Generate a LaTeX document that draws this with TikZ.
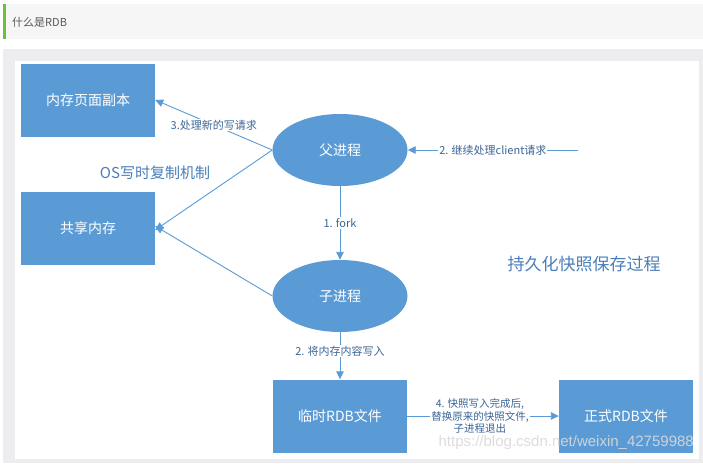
\documentclass[tikz,border=0pt]{standalone}
\usepackage{fontspec}
\setmainfont{Noto Sans CJK SC}
\newfontfamily\wmfont{Liberation Sans}
\usetikzlibrary{shapes.geometric,arrows.meta}
\definecolor{boxblue}{HTML}{5B9BD5}
\definecolor{lineblue}{HTML}{5B9BD5}
\definecolor{txtblue}{HTML}{4A7EBB}
\definecolor{panelgray}{HTML}{EDEDEF}
\definecolor{headgray}{HTML}{F6F6F7}
\definecolor{headgreen}{HTML}{6CBF3F}
\tikzset{
  rbox/.style={draw=none, fill=boxblue, minimum width=134pt, minimum height=73pt, inner sep=0pt, text=white, font=\fontsize{14}{16}\selectfont},
  proc/.style={ellipse, draw=none, fill=boxblue, minimum width=135pt, minimum height=72pt, inner sep=0pt, text=white, font=\fontsize{14}{16}\selectfont},
  conn/.style={draw=lineblue, line width=0.9pt, -{Triangle[length=8pt,width=7.5pt]}},
  lbl/.style={fill=white, inner sep=1pt, text=txtblue!80!black, font=\fontsize{11}{13}\selectfont, align=center},
  bigt/.style={text=txtblue, inner sep=0pt}
}
\begin{document}
\begin{tikzpicture}[x=1pt,y=-1pt]
\useasboundingbox (0,0) rectangle (703,463);
% header
\fill[headgray] (3,4) rectangle (703,39);
\fill[headgreen] (3,4) rectangle (6,39);
\node[anchor=west, text=black!65, inner sep=0pt, font=\fontsize{11}{13}\selectfont] (head) at (12,22) {什么是RDB};
% panel
\fill[panelgray] (3,49) rectangle (703,463);
\fill[white] (15,61) rectangle (699,459);
% nodes
\node[rbox] (copy) at (88,100) {内存页面副本};
\node[rbox] (share) at (88,228) {共享内存};
\node[proc] (parent) at (340,150) {父进程};
\node[proc] (child) at (340,296) {子进程};
\node[rbox] (tmp) at (340,416) {临时RDB文件};
\node[rbox] (final) at (626,416) {正式RDB文件};
\node[bigt, font=\fontsize{15}{17}\selectfont] (os) at (155,173) {OS写时复制机制};
\node[bigt, font=\fontsize{17}{19}\selectfont] (title) at (584,264) {持久化快照保存过程};
\coordinate (client) at (578,150);
% connectors
\draw[conn] (parent.west) -- node[lbl, pos=0.5] {3.处理新的写请求} (copy.east);
\draw[conn] (parent.west) -- ([yshift=-2pt]share.east);
\draw[conn] (child.west) -- ([yshift=2pt]share.east);
\draw[conn] (parent.south) -- node[lbl] {1. fork} (child.north);
\draw[conn] (client) -- node[lbl, pos=0.5] {2. 继续处理client请求} (parent.east);
\draw[conn] (child.south) -- node[lbl, pos=0.4] {2. 将内存内容写入} (tmp.north);
\draw[conn] (tmp.east) -- node[lbl, pos=0.48, font=\fontsize{10.5}{12.5}\selectfont] {4. 快照写入完成后,\\替换原来的快照文件,\\子进程退出} (final.west);
% watermark
\node[anchor=east, inner sep=0pt, text=gray!30, opacity=0.9, font=\wmfont\fontsize{15}{17}\selectfont] (wm) at (694,443) {https://blog.csdn.net/weixin\_42759988};
\end{tikzpicture}
\end{document}
